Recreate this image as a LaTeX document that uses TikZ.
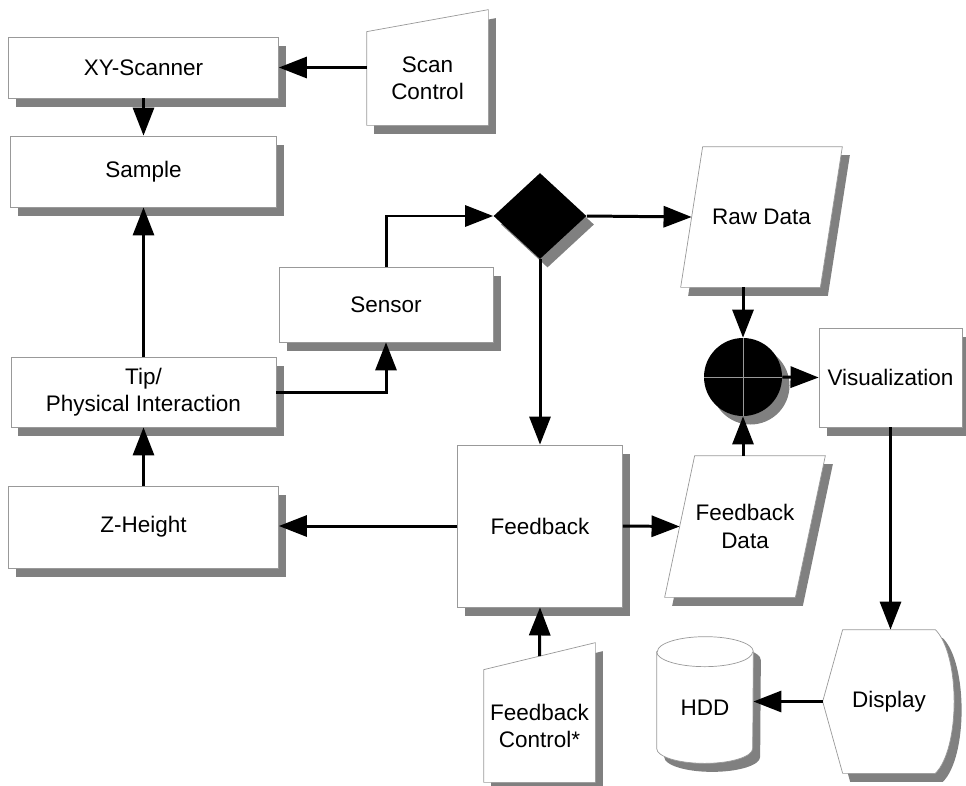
\documentclass[tikz,border=0pt]{standalone}
\usepackage{fontspec}
\setmainfont{Liberation Sans}
\usetikzlibrary{arrows.meta,positioning,shapes.geometric,shadows,calc,backgrounds}

\begin{document}
\begin{tikzpicture}[font=\fontsize{12.8}{15.5}\selectfont,
  boxshadow/.style={drop shadow={shadow xshift=.15cm,shadow yshift=-.17cm,fill=black!50,opacity=1}},
  blk/.style={draw=black!40,line width=.4pt,fill=white,boxshadow,align=center,inner sep=0pt},
  body/.style={align=center,inner sep=0pt},
  outline/.style={draw=black!40,line width=.4pt,fill=white,boxshadow},
  link/.style={-{Triangle[length=16pt,width=12pt]},line width=1.7pt}]
 \useasboundingbox (0,0) rectangle (19.32,-15.7);
 % plain boxes
 \node[blk,minimum width=5.4cm,minimum height=1.22cm] (xy) at (2.87,-1.35) {XY-Scanner};
 \node[blk,minimum width=5.32cm,minimum height=1.42cm] (smp) at (2.87,-3.43) {Sample};
 \node[blk,minimum width=5.3cm,minimum height=1.4cm] (tip) at (2.87,-7.84) {Tip/\\Physical Interaction};
 \node[blk,minimum width=5.4cm,minimum height=1.64cm] (zh) at (2.87,-10.54) {Z-Height};
 \node[blk,minimum width=4.28cm,minimum height=1.5cm] (sen) at (7.72,-6.09) {Sensor};
 \node[blk,minimum width=3.3cm,minimum height=3.24cm] (fb) at (10.8,-10.52) {Feedback};
 \node[blk,minimum width=2.86cm,minimum height=1.98cm] (vis) at (17.81,-7.55) {Visualization};
 % branch and junction
 \node[diamond,fill=black,boxshadow,inner sep=0pt,minimum width=1.86cm,minimum height=1.72cm] (dia) at (10.8,-4.32) {};
 \node[circle,fill=black,boxshadow,inner sep=0pt,minimum size=1.56cm,
   path picture={\draw[black!40,line width=.4pt] (path picture bounding box.north) -- (path picture bounding box.south)
     (path picture bounding box.west) -- (path picture bounding box.east);}] (sum) at (14.86,-7.54) {};
 % text only, outlines go on the background layer
 \node[body,minimum width=2.78cm,minimum height=2.8cm] (rd) at (15.23,-4.34) {Raw Data};
 \node[body,minimum width=2.6cm,minimum height=2.82cm] (fbd) at (14.9,-10.53) {Feedback\\Data};
 \node[body,minimum width=2.42cm,minimum height=1.86cm] (scan) at (8.55,-1.57) {Scan\\Control};
 \node[body,minimum width=2.22cm,minimum height=2.24cm] (fbc) at (10.79,-14.52) {Feedback\\Control*};
 \node[body,minimum width=1.84cm,minimum height=2.86cm] (dsp) at (17.78,-14.03) {Display};
 \node[body,minimum width=1.92cm,minimum height=2.22cm] (hdd) at (14.1,-14.15) {HDD};
 \begin{scope}[on background layer]
  \draw[outline] ($(rd.south west)+(-.22,0)$) -- ($(rd.north west)+(.22,0)$) -- ($(rd.north east)+(.22,0)$) -- ($(rd.south east)+(-.22,0)$) -- cycle;
  \draw[outline] ($(fbd.south west)+(-.3,0)$) -- ($(fbd.north west)+(.3,0)$) -- ($(fbd.north east)+(.3,0)$) -- ($(fbd.south east)+(-.3,0)$) -- cycle;
  \draw[outline] (scan.south west) -- (scan.north west) -- ($(scan.north east)+(0,.44)$) -- (scan.south east) -- cycle;
  \draw[outline] (fbc.south west) -- (fbc.north west) -- ($(fbc.north east)+(0,.54)$) -- (fbc.south east) -- cycle;
  \draw[outline] (dsp.north west) -- (dsp.north east) .. controls +(.5,-.5) and +(.5,.5) .. (dsp.south east)
    -- (dsp.south west) -- ($(dsp.west)+(-.4,0)$) -- cycle;
  \draw[outline] (hdd.north west) -- ($(hdd.south west)+(0,.3)$) arc[start angle=180,end angle=360,x radius=.96cm,y radius=.3cm]
    -- (hdd.north east) arc[start angle=0,end angle=180,x radius=.96cm,y radius=.3cm] -- cycle;
  \draw[black!40,line width=.4pt] (hdd.north west) arc[start angle=180,end angle=360,x radius=.96cm,y radius=.3cm];
 \end{scope}
 \coordinate (dsptip) at ($(dsp.west)+(-.4,0)$);
 \coordinate (fbctop) at ($(fbc.north)+(0,.27)$);
 % signal flow
 \draw[link] (scan.west |- xy.east) -- (xy.east);
 \draw[link] (xy.south) -- (smp.north);
 \draw[link] (tip.north) -- (smp.south);
 \draw[link] (zh.north) -- (tip.south);
 \draw[link] (tip.east) -| (sen.south);
 \draw[link] (sen.north) |- (dia.west);
 \draw[link] (dia.east) -- (rd.west);
 \draw[link] (dia.south) -- (fb.north);
 \draw[link] (fb.west) -- (fb.west -| zh.east);
 \draw[link] (fb.east) -- (fbd.west);
 \draw[link] (fbctop) -- (fb.south);
 \draw[link] (rd.south -| sum) -- (sum.north);
 \draw[link] (fbd.north -| sum) -- (sum.south);
 \draw[link] (sum.east) -- (vis.west);
 \draw[link] (vis.south) -- (vis.south |- dsp.north);
 \draw[link] (dsptip) -- (dsptip -| hdd.east);
\end{tikzpicture}
\end{document}
